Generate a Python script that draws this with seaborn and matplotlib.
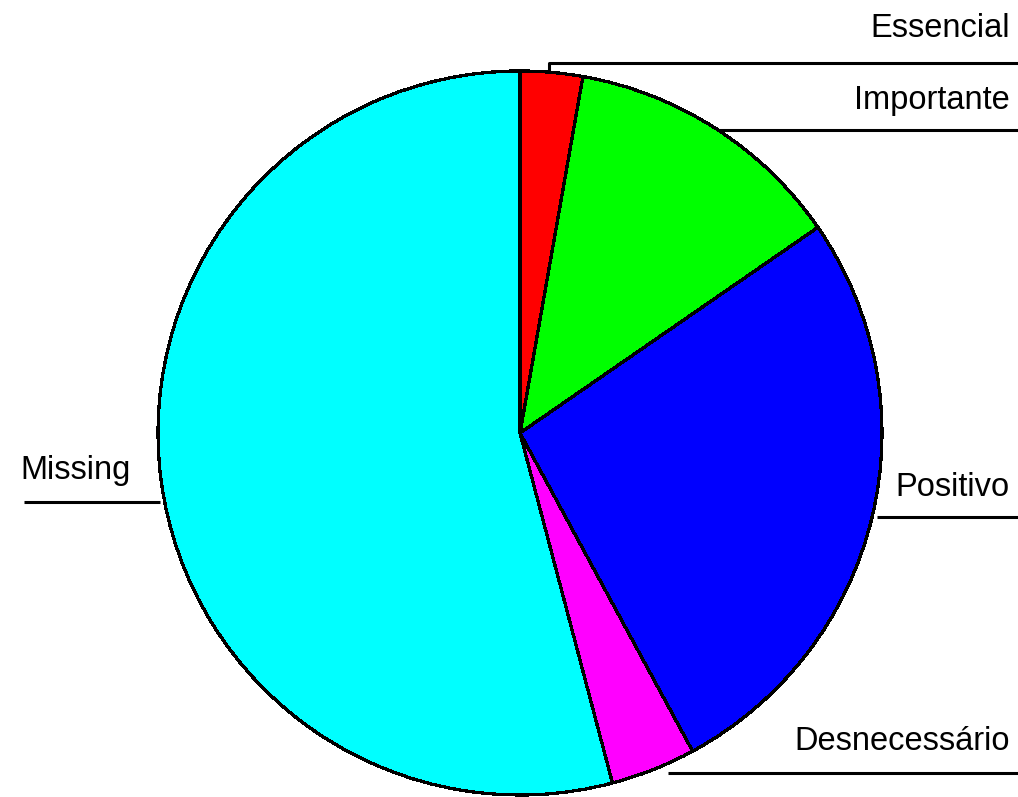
import matplotlib
matplotlib.use("Agg")
import matplotlib.pyplot as plt
import seaborn as sns

# fatias do grafico, sentido horario a partir do topo
categorias = ["Essencial", "Importante", "Positivo", "Desnecessário", "Missing"]
valores = [2.78, 12.6, 26.7, 3.8, 54.1]
cores = ["#ff0000", "#00ff00", "#0000ff", "#ff00ff", "#00ffff"]

sns.set_style("white")
plt.rcParams["font.family"] = ["Liberation Sans", "DejaVu Sans"]

W, H = 1018, 797
fig = plt.figure(figsize=(W / 100, H / 100), dpi=100)
ax = fig.add_axes([0, 0, 1, 1])

# centro e raio em pixels (y para cima)
cx, cy, r = 520, H - 433, 362
ax.pie(valores, colors=cores, startangle=90, counterclock=False,
       center=(cx, cy), radius=r,
       wedgeprops=dict(edgecolor="black", linewidth=1.6, antialiased=False))

# rotulos e linhas-guia (x do texto, y do texto, linha: x0, x1, y)
rotulos = {
    "Essencial": (1010, 28, 549, 1018, 63),
    "Importante": (1010, 100, 718, 1018, 130),
    "Positivo": (1010, 487, 877, 1018, 517),
    "Desnecessário": (1010, 742, 668, 1018, 773),
    "Missing": (20, 470, 24, 160, 502),
}
for nome, (tx, ty, x0, x1, ly) in rotulos.items():
    ha = "left" if nome == "Missing" else "right"
    ax.text(tx, H - ty, nome, ha=ha, va="center", fontsize=23.5, color="black")
    ax.plot([x0, x1], [H - ly, H - ly], color="black", lw=2.2, solid_capstyle="butt")
# pequeno traco vertical do Essencial ate a borda
ax.plot([549, 549], [H - 63, H - 72], color="black", lw=2.2)

ax.set_xlim(0, W)
ax.set_ylim(0, H)
ax.set_aspect("equal")
ax.axis("off")
fig.savefig("out.png", dpi=100, facecolor="white")
